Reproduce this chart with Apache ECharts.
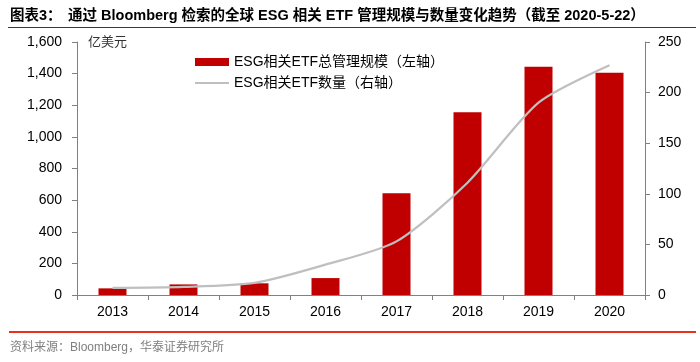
<!DOCTYPE html>
<html>
<head>
<meta charset="utf-8">
<script src="https://cdn.jsdelivr.net/npm/echarts@6/dist/echarts.min.js"></script>
<style>html,body{margin:0;padding:0;background:#fff;}#c{width:700px;height:362px;}</style>
</head>
<body>
<div id="c"></div>
<script>
var categories = ['2013','2014','2015','2016','2017','2018','2019','2020'];
var aumValues = [42, 67, 74, 107, 643, 1155, 1444, 1406];
var countValues = [7, 8, 12, 30, 53, 111, 190, 227];
var leftTicks = [0, 200, 400, 600, 800, 1000, 1200, 1400, 1600];
var rightTicks = [0, 50, 100, 150, 200, 250];
var seriesNames = ['ESG相关ETF总管理规模（左轴）', 'ESG相关ETF数量（右轴）'];

var FONT = "Arial, 'Liberation Sans', 'Noto Sans CJK SC', sans-serif";
var chart = echarts.init(document.getElementById('c'), null, {renderer: 'canvas'});
chart.setOption({
  animation: false,
  backgroundColor: '#fff',
  textStyle: {fontFamily: FONT},
  grid: {left: 77, right: 55, top: 42, bottom: 67, containLabel: false},
  legend: {
    left: 189, top: 50, orient: 'vertical', itemGap: 7,
    itemWidth: 34, itemHeight: 8, itemGap: 7,
    textStyle: {fontSize: 14, color: '#000', fontFamily: FONT},
    data: [
      {name: seriesNames[0], icon: 'rect'},
      {name: seriesNames[1], itemStyle: {opacity: 0}}
    ]
  },
  xAxis: {
    type: 'category', data: categories,
    axisLine: {lineStyle: {color: '#808080', width: 1}},
    axisTick: {show: true, length: 5, lineStyle: {color: '#808080'}},
    axisLabel: {color: '#000', fontSize: 14, margin: 10, fontFamily: FONT}
  },
  yAxis: [
    {
      type: 'value', min: 0, max: 1600, interval: 200,
      axisLine: {show: true, lineStyle: {color: '#808080'}},
      axisTick: {show: true, length: 5, lineStyle: {color: '#808080'}},
      splitLine: {show: false},
      axisLabel: {color: '#000', fontSize: 14, margin: 15, fontFamily: FONT,
        formatter: function(v){ return v.toString().replace(/\B(?=(\d{3})+(?!\d))/g, ','); }}
    },
    {
      type: 'value', min: 0, max: 250, interval: 50, position: 'right',
      axisLine: {show: true, lineStyle: {color: '#808080'}},
      axisTick: {show: true, length: 5, lineStyle: {color: '#808080'}},
      splitLine: {show: false},
      axisLabel: {color: '#000', fontSize: 14, margin: 13, fontFamily: FONT}
    }
  ],
  series: [
    {
      name: seriesNames[0], type: 'bar', data: aumValues, yAxisIndex: 0,
      barWidth: 28, itemStyle: {color: '#c00000'}
    },
    {
      name: seriesNames[1], type: 'line', data: countValues, yAxisIndex: 1,
      smooth: 0.25, symbol: 'none', lineStyle: {color: '#bfbfbf', width: 2.2},
      itemStyle: {color: '#bfbfbf'}
    }
  ],
  graphic: [
    {type: 'text', left: 10, top: 9, style: {text: '图表3：', font: "bold 14.5px " + FONT, fill: '#000'}},
    {type: 'text', left: 68, top: 9, style: {text: '通过 Bloomberg 检索的全球 ESG 相关 ETF 管理规模与数量变化趋势（截至 2020-5-22）', font: "bold 14.5px " + FONT, fill: '#000'}},
    {type: 'rect', shape: {x: 8, y: 27, width: 688, height: 1}, style: {fill: '#c00000'}},
    {type: 'text', left: 88, top: 36, style: {text: '亿美元', font: "13px " + FONT, fill: '#333'}},
    {type: 'rect', shape: {x: 9, y: 331, width: 687, height: 2}, style: {fill: '#e8301c'}},
    {type: 'text', left: 10, top: 342, style: {text: '资料来源：Bloomberg，华泰证券研究所', font: "12px " + FONT, fill: '#7f7f7f'}}
  ]
});
</script>
</body>
</html>
